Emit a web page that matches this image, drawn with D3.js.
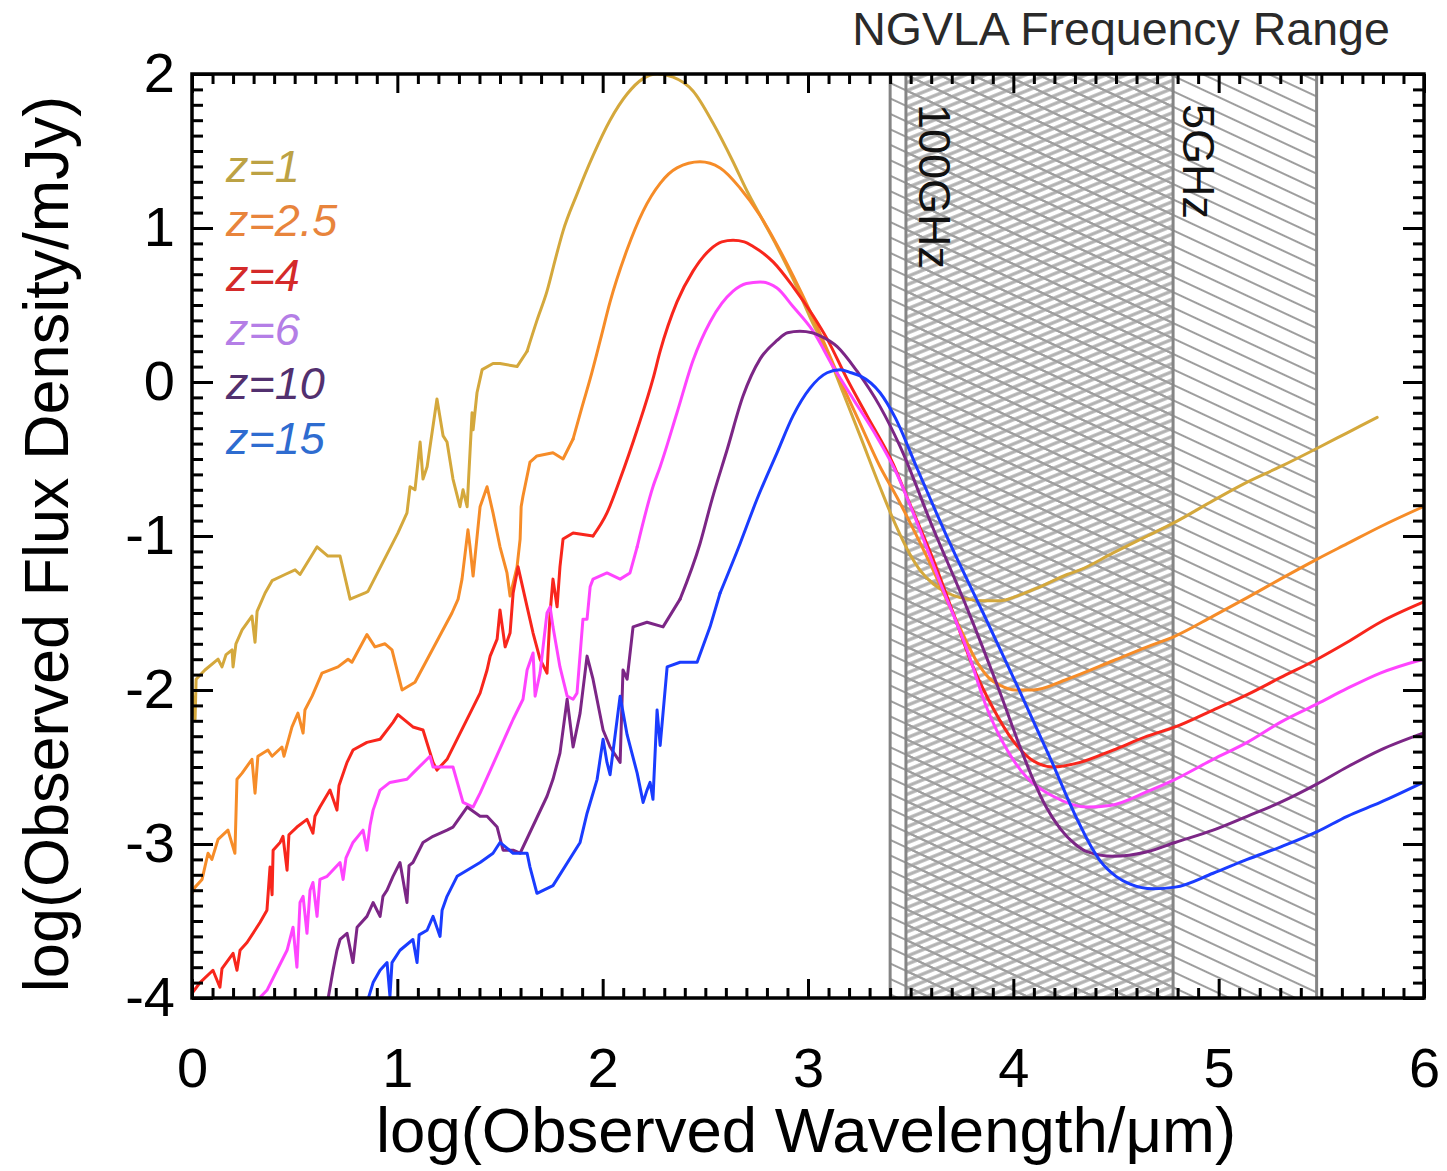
<!DOCTYPE html>
<html><head><meta charset="utf-8">
<script src="https://cdn.jsdelivr.net/npm/d3@7"></script>
<style>
html,body{margin:0;padding:0;background:#fff;}
svg{display:block;font-family:"Liberation Sans",Arial,Helvetica,sans-serif;}
</style></head><body>
<svg id="chart" width="1447" height="1171"></svg>
<script>
// ---------- data (log wavelength in μm, log flux density in mJy) ----------
const xTickValues = [0, 1, 2, 3, 4, 5, 6];
const yTickValues = [-4, -3, -2, -1, 0, 1, 2];
const seriesLabels = ["z=1", "z=2.5", "z=4", "z=6", "z=10", "z=15"];
const titleText = "NGVLA Frequency Range";
const xTitle = "log(Observed Wavelength/\u03bcm)";
const yTitle = "log(Observed Flux Density/mJy)";
// band boundaries in log(λ/μm): ~116GHz, 100GHz, 5GHz, 1GHz
const bandEdges = [3.40, 3.477, 4.778, 5.477];
const bandLabels = ["100GHz", "5GHz"];
const bandLabelAt = [3.477, 4.778];

const sedZ1 = [[0.00,-2.00],[0.015,-2.19],[0.02,-1.93],[0.063,-1.87],[0.127,-1.80],[0.146,-1.85],[0.166,-1.77],[0.195,-1.74],[0.20,-1.85],[0.214,-1.70],[0.244,-1.61],[0.292,-1.52],[0.307,-1.69],[0.317,-1.49],[0.356,-1.37],[0.39,-1.29],[0.453,-1.25],[0.502,-1.22],[0.526,-1.25],[0.609,-1.07],[0.662,-1.13],[0.721,-1.13],[0.77,-1.41],[0.843,-1.37],[0.857,-1.36],[1.003,-0.98],[1.047,-0.85],[1.062,-0.68],[1.086,-0.70],[1.111,-0.39],[1.125,-0.63],[1.145,-0.55],[1.193,-0.11],[1.223,-0.35],[1.242,-0.39],[1.271,-0.63],[1.305,-0.81],[1.32,-0.70],[1.34,-0.81],[1.364,-0.20],[1.369,-0.31],[1.388,-0.07],[1.413,0.08],[1.466,0.12],[1.50,0.12],[1.583,0.10],[1.632,0.20],[1.68,0.40],[1.729,0.59],[1.77,0.80],[1.807,0.98],[1.875,1.22],[1.953,1.47],[2.036,1.70],[2.119,1.87],[2.197,1.97],[2.265,2.00],[2.343,1.98],[2.44,1.89],[2.538,1.68],[2.635,1.43],[2.703,1.24],[2.78,1.05],[2.849,0.88],[2.927,0.67],[3.01,0.42],[3.093,0.19],[3.171,-0.07],[3.254,-0.35],[3.35,-0.68],[3.424,-0.92],[3.497,-1.12],[3.55,-1.23],[3.609,-1.31],[3.68,-1.37],[3.741,-1.40],[3.853,-1.42],[3.936,-1.42],[4.018,-1.39],[4.13,-1.33],[4.262,-1.25],[4.325,-1.22],[4.486,-1.11],[4.652,-1.00],[4.788,-0.91],[4.973,-0.77],[5.139,-0.65],[5.30,-0.55],[5.48,-0.43],[5.626,-0.33],[5.772,-0.23]];

const sedZ2p5 = [[0.00,-3.32],[0.015,-3.28],[0.049,-3.23],[0.078,-3.06],[0.097,-3.10],[0.127,-2.97],[0.175,-2.91],[0.209,-3.06],[0.219,-2.58],[0.244,-2.54],[0.292,-2.45],[0.307,-2.67],[0.321,-2.43],[0.37,-2.39],[0.39,-2.43],[0.438,-2.37],[0.448,-2.43],[0.487,-2.24],[0.516,-2.15],[0.541,-2.28],[0.55,-2.13],[0.585,-2.04],[0.633,-1.89],[0.711,-1.85],[0.76,-1.80],[0.779,-1.82],[0.852,-1.64],[0.891,-1.72],[0.94,-1.70],[0.974,-1.74],[1.023,-2.00],[1.086,-1.95],[1.266,-1.50],[1.296,-1.41],[1.315,-1.28],[1.344,-0.96],[1.354,-1.07],[1.369,-1.26],[1.403,-0.81],[1.437,-0.68],[1.466,-0.85],[1.50,-1.07],[1.534,-1.24],[1.549,-1.39],[1.583,-1.20],[1.598,-1.02],[1.603,-0.81],[1.612,-0.74],[1.646,-0.52],[1.68,-0.48],[1.758,-0.46],[1.807,-0.50],[1.856,-0.37],[1.90,-0.16],[1.939,0.02],[1.99,0.28],[2.036,0.52],[2.119,0.86],[2.197,1.11],[2.28,1.29],[2.362,1.39],[2.474,1.43],[2.572,1.39],[2.669,1.26],[2.767,1.08],[2.849,0.89],[2.927,0.69],[3.01,0.46],[3.093,0.21],[3.171,-0.03],[3.254,-0.27],[3.351,-0.55],[3.434,-0.75],[3.522,-0.98],[3.609,-1.22],[3.68,-1.43],[3.741,-1.60],[3.824,-1.82],[3.88,-1.92],[3.936,-1.97],[4.01,-2.00],[4.096,-2.00],[4.262,-1.93],[4.486,-1.81],[4.652,-1.72],[4.788,-1.65],[4.973,-1.52],[5.139,-1.40],[5.30,-1.28],[5.48,-1.15],[5.626,-1.05],[5.787,-0.94],[5.996,-0.81]];

const sedZ4 = [[0.00,-3.97],[0.039,-3.90],[0.102,-3.82],[0.136,-3.93],[0.146,-3.81],[0.20,-3.71],[0.219,-3.82],[0.234,-3.69],[0.268,-3.64],[0.331,-3.51],[0.365,-3.43],[0.38,-3.15],[0.39,-3.33],[0.395,-3.04],[0.429,-2.99],[0.443,-2.95],[0.463,-3.17],[0.472,-2.94],[0.511,-2.89],[0.56,-2.84],[0.589,-2.93],[0.599,-2.82],[0.623,-2.76],[0.672,-2.65],[0.706,-2.78],[0.716,-2.62],[0.755,-2.47],[0.784,-2.39],[0.852,-2.34],[0.916,-2.32],[0.979,-2.21],[1.003,-2.16],[1.076,-2.24],[1.125,-2.26],[1.174,-2.47],[1.193,-2.52],[1.242,-2.45],[1.403,-2.02],[1.437,-1.87],[1.452,-1.78],[1.486,-1.67],[1.50,-1.48],[1.525,-1.72],[1.549,-1.63],[1.564,-1.37],[1.588,-1.20],[1.632,-1.46],[1.661,-1.63],[1.695,-1.80],[1.729,-1.89],[1.744,-1.50],[1.758,-1.28],[1.778,-1.46],[1.792,-1.20],[1.807,-1.02],[1.856,-0.98],[1.953,-1.00],[2.021,-0.85],[2.085,-0.63],[2.168,-0.31],[2.245,0.02],[2.28,0.20],[2.362,0.52],[2.44,0.72],[2.523,0.86],[2.58,0.91],[2.635,0.92],[2.69,0.91],[2.733,0.88],[2.83,0.78],[2.927,0.62],[3.025,0.43],[3.093,0.28],[3.19,0.02],[3.288,-0.22],[3.414,-0.53],[3.483,-0.75],[3.609,-1.15],[3.707,-1.50],[3.804,-1.85],[3.902,-2.12],[3.999,-2.33],[4.096,-2.46],[4.194,-2.50],[4.325,-2.47],[4.486,-2.39],[4.652,-2.30],[4.788,-2.24],[4.973,-2.13],[5.139,-2.03],[5.30,-1.92],[5.48,-1.80],[5.626,-1.69],[5.787,-1.56],[5.996,-1.43]];

const sedZ6 = [[0.321,-4.01],[0.365,-3.95],[0.414,-3.82],[0.463,-3.69],[0.492,-3.54],[0.511,-3.80],[0.526,-3.38],[0.541,-3.34],[0.56,-3.58],[0.575,-3.30],[0.589,-3.25],[0.609,-3.47],[0.623,-3.23],[0.658,-3.21],[0.721,-3.12],[0.736,-3.23],[0.75,-3.09],[0.784,-2.99],[0.833,-2.91],[0.852,-3.04],[0.867,-2.88],[0.882,-2.78],[0.916,-2.65],[0.964,-2.60],[1.047,-2.58],[1.076,-2.54],[1.159,-2.43],[1.174,-2.50],[1.242,-2.50],[1.271,-2.50],[1.32,-2.73],[1.369,-2.76],[1.403,-2.67],[1.564,-2.19],[1.612,-2.06],[1.632,-1.87],[1.661,-1.76],[1.671,-2.04],[1.695,-1.89],[1.729,-1.50],[1.744,-1.46],[1.758,-1.59],[1.792,-1.85],[1.827,-2.04],[1.856,-2.06],[1.875,-2.02],[1.904,-1.54],[1.924,-1.54],[1.939,-1.33],[1.953,-1.28],[2.021,-1.24],[2.085,-1.28],[2.133,-1.24],[2.168,-1.07],[2.245,-0.68],[2.28,-0.55],[2.362,-0.20],[2.44,0.14],[2.523,0.39],[2.58,0.51],[2.635,0.59],[2.70,0.64],[2.767,0.65],[2.849,0.61],[2.927,0.49],[3.025,0.33],[3.122,0.10],[3.22,-0.11],[3.337,-0.36],[3.434,-0.60],[3.497,-0.80],[3.643,-1.30],[3.775,-1.74],[3.872,-2.12],[3.97,-2.39],[4.067,-2.57],[4.194,-2.69],[4.359,-2.76],[4.471,-2.75],[4.652,-2.66],[4.788,-2.58],[4.973,-2.45],[5.139,-2.34],[5.30,-2.21],[5.48,-2.09],[5.626,-1.99],[5.787,-1.89],[5.996,-1.80]];

const sedZ10 = [[0.662,-4.01],[0.687,-3.82],[0.706,-3.69],[0.721,-3.62],[0.755,-3.58],[0.784,-3.77],[0.804,-3.54],[0.852,-3.47],[0.882,-3.38],[0.916,-3.47],[0.93,-3.34],[0.95,-3.30],[0.979,-3.21],[1.013,-3.12],[1.047,-3.38],[1.057,-3.14],[1.076,-3.12],[1.125,-2.99],[1.174,-2.95],[1.242,-2.91],[1.271,-2.89],[1.34,-2.76],[1.403,-2.82],[1.437,-2.82],[1.486,-2.89],[1.515,-3.04],[1.564,-3.04],[1.598,-3.06],[1.729,-2.69],[1.758,-2.58],[1.792,-2.41],[1.827,-2.06],[1.856,-2.37],[1.89,-2.15],[1.924,-1.78],[1.953,-1.93],[2.002,-2.26],[2.036,-2.37],[2.085,-2.47],[2.099,-1.87],[2.119,-1.93],[2.148,-1.59],[2.216,-1.56],[2.294,-1.59],[2.377,-1.41],[2.474,-1.05],[2.533,-0.76],[2.606,-0.44],[2.684,-0.09],[2.767,0.15],[2.849,0.27],[2.90,0.32],[2.961,0.33],[3.02,0.32],[3.059,0.30],[3.142,0.23],[3.239,0.07],[3.351,-0.16],[3.449,-0.42],[3.609,-0.95],[3.775,-1.47],[3.936,-2.02],[4.03,-2.36],[4.096,-2.58],[4.16,-2.76],[4.228,-2.90],[4.30,-3.00],[4.359,-3.05],[4.486,-3.08],[4.652,-3.05],[4.788,-2.99],[4.973,-2.91],[5.139,-2.82],[5.30,-2.73],[5.48,-2.61],[5.626,-2.50],[5.787,-2.39],[5.996,-2.28]];

const sedZ15 = [[0.857,-4.01],[0.882,-3.90],[0.916,-3.82],[0.95,-3.77],[0.964,-3.99],[0.974,-3.77],[1.013,-3.69],[1.076,-3.62],[1.096,-3.77],[1.106,-3.59],[1.145,-3.56],[1.174,-3.47],[1.208,-3.60],[1.218,-3.43],[1.242,-3.34],[1.291,-3.21],[1.34,-3.17],[1.403,-3.12],[1.466,-3.06],[1.50,-2.99],[1.564,-3.06],[1.632,-3.06],[1.646,-3.15],[1.68,-3.32],[1.758,-3.27],[1.89,-2.99],[1.924,-2.80],[1.973,-2.58],[2.002,-2.32],[2.021,-2.47],[2.036,-2.55],[2.085,-2.04],[2.119,-2.29],[2.168,-2.54],[2.197,-2.73],[2.216,-2.65],[2.231,-2.60],[2.245,-2.71],[2.265,-2.13],[2.28,-2.36],[2.314,-1.85],[2.377,-1.82],[2.46,-1.82],[2.523,-1.59],[2.572,-1.37],[2.669,-1.05],[2.752,-0.76],[2.849,-0.46],[2.927,-0.22],[3.01,-0.04],[3.093,0.06],[3.156,0.08],[3.21,0.06],[3.254,0.04],[3.351,-0.07],[3.424,-0.23],[3.531,-0.56],[3.692,-1.05],[3.853,-1.50],[4.018,-1.97],[4.179,-2.44],[4.311,-2.84],[4.38,-3.02],[4.423,-3.11],[4.50,-3.21],[4.569,-3.26],[4.681,-3.29],[4.788,-3.28],[4.973,-3.19],[5.139,-3.10],[5.30,-3.02],[5.48,-2.92],[5.626,-2.82],[5.787,-2.73],[5.996,-2.60]];

const seriesData = [sedZ1, sedZ2p5, sedZ4, sedZ6, sedZ10, sedZ15];
// where each spectrum stops being spiky and becomes a smooth dust/radio curve
const smoothFrom = [1.632, 1.856, 1.953, 2.168, 2.377, 2.572];
const lineColors = ["#d4a83c", "#f68c28", "#f8261c", "#ff44ff", "#7c2686", "#1a3cff"];
const legendColors = ["#bca244", "#e8843c", "#d42a2a", "#b47ee6", "#52306f", "#2e6cd0"];

// ---------- layout ----------
const L = 192, R = 1424, T = 74, B = 998;
const svg = d3.select("#chart");
const x = d3.scaleLinear().domain([0, 6]).range([L, R]);
const y = d3.scaleLinear().domain([-4, 2]).range([B, T]);

const defs = svg.append("defs");
defs.append("clipPath").attr("id", "plotClip")
  .append("rect").attr("x", L).attr("y", T).attr("width", R - L).attr("height", B - T);

const pA = defs.append("pattern").attr("id", "hatchA").attr("patternUnits", "userSpaceOnUse")
  .attr("width", 60).attr("height", 14).attr("patternTransform", "rotate(25)");
pA.append("line").attr("x1", 0).attr("x2", 60).attr("y1", 7).attr("y2", 7)
  .attr("stroke", "#9e9e9e").attr("stroke-width", 2.2);
const pB = defs.append("pattern").attr("id", "hatchB").attr("patternUnits", "userSpaceOnUse")
  .attr("width", 60).attr("height", 7.5).attr("patternTransform", "rotate(-22)");
pB.append("line").attr("x1", 0).attr("x2", 60).attr("y1", 3.75).attr("y2", 3.75)
  .attr("stroke", "#b2b2b2").attr("stroke-width", 3.4);

// hatched NGVLA band
const band = svg.append("g");
band.append("rect").attr("x", x(bandEdges[0])).attr("y", T)
  .attr("width", x(bandEdges[3]) - x(bandEdges[0])).attr("height", B - T)
  .attr("fill", "url(#hatchA)");
band.append("rect").attr("x", x(bandEdges[1])).attr("y", T)
  .attr("width", x(bandEdges[2]) - x(bandEdges[1])).attr("height", B - T)
  .attr("fill", "url(#hatchB)");
band.append("rect").attr("x", x(bandEdges[1])).attr("y", T)
  .attr("width", x(bandEdges[2]) - x(bandEdges[1])).attr("height", B - T)
  .attr("fill", "url(#hatchA)");
band.selectAll("line.edge").data(bandEdges).enter().append("line")
  .attr("class", "edge")
  .attr("x1", d => x(d)).attr("x2", d => x(d)).attr("y1", T).attr("y2", B)
  .attr("stroke", "#858585").attr("stroke-width", 3);
band.selectAll("text.bl").data(bandLabels).enter().append("text")
  .attr("class", "bl")
  .attr("transform", (d, i) => `translate(${x(bandLabelAt[i]) + (i === 0 ? 13 : 10)},${T + 30}) rotate(90)`)
  .attr("font-size", 45).attr("fill", "#111")
  .text(d => d);

// curves: spiky stellar part drawn straight, smooth part drawn with monotone spline
const lineStraight = d3.line().x(d => x(d[0])).y(d => y(d[1])).curve(d3.curveLinear);
const lineSmooth = d3.line().x(d => x(d[0])).y(d => y(d[1])).curve(d3.curveMonotoneX);
const curveG = svg.append("g").attr("clip-path", "url(#plotClip)");
seriesData.forEach((data, i) => {
  const k = data.findIndex(p => p[0] >= smoothFrom[i]);
  const noisy = data.slice(0, k + 1), smooth = data.slice(k);
  const g = curveG.append("g").attr("fill", "none").attr("stroke", lineColors[i])
    .attr("stroke-width", 3).attr("stroke-linejoin", "round").attr("stroke-linecap", "round");
  g.append("path").attr("d", lineStraight(noisy));
  g.append("path").attr("d", lineSmooth(smooth));
});

// axes: ticks inward on all four sides
const xMinor = d3.range(0, 61).map(v => v / 10).filter(v => !xTickValues.includes(v));
const yMinor = d3.range(-40, 21).map(v => v / 10).filter(v => !yTickValues.includes(v));
function styleAxis(g) {
  g.select(".domain").remove();
  g.selectAll(".tick line").attr("stroke", "#000").attr("stroke-width", 3);
  g.selectAll("text").attr("font-size", 56).attr("fill", "#000")
    .attr("font-family", "'Liberation Sans', Arial, sans-serif");
}
const fmt = d => String(d);
svg.append("g").attr("transform", `translate(0,${B})`)
  .call(d3.axisBottom(x).tickValues(xTickValues).tickSize(-19).tickPadding(49).tickFormat(fmt)).call(styleAxis);
svg.append("g").attr("transform", `translate(0,${B})`)
  .call(d3.axisBottom(x).tickValues(xMinor).tickSize(-10).tickFormat("")).call(styleAxis);
svg.append("g").attr("transform", `translate(0,${T})`)
  .call(d3.axisTop(x).tickValues(xTickValues).tickSize(-19).tickFormat("")).call(styleAxis);
svg.append("g").attr("transform", `translate(0,${T})`)
  .call(d3.axisTop(x).tickValues(xMinor).tickSize(-10).tickFormat("")).call(styleAxis);
svg.append("g").attr("transform", `translate(${L},0)`)
  .call(d3.axisLeft(y).tickValues(yTickValues).tickSize(-21).tickPadding(17).tickFormat(fmt)).call(styleAxis);
svg.append("g").attr("transform", `translate(${L},0)`)
  .call(d3.axisLeft(y).tickValues(yMinor).tickSize(-11).tickFormat("")).call(styleAxis);
svg.append("g").attr("transform", `translate(${R},0)`)
  .call(d3.axisRight(y).tickValues(yTickValues).tickSize(-21).tickFormat("")).call(styleAxis);
svg.append("g").attr("transform", `translate(${R},0)`)
  .call(d3.axisRight(y).tickValues(yMinor).tickSize(-11).tickFormat("")).call(styleAxis);

// frame
svg.append("rect").attr("x", L).attr("y", T).attr("width", R - L).attr("height", B - T)
  .attr("fill", "none").attr("stroke", "#000").attr("stroke-width", 3.5);

// titles
svg.append("text").attr("x", 806).attr("y", 1152)
  .attr("text-anchor", "middle").attr("font-size", 63.5).attr("fill", "#000").text(xTitle);
svg.append("text").attr("transform", `translate(68,${(T + B) / 2 + 8}) rotate(-90)`)
  .attr("text-anchor", "middle").attr("font-size", 63).attr("fill", "#000").text(yTitle);
svg.append("text").attr("x", 1121).attr("y", 45)
  .attr("text-anchor", "middle").attr("font-size", 46.5).attr("fill", "#2a2a2a").text(titleText);

// legend
svg.append("g").selectAll("text").data(seriesLabels).enter().append("text")
  .attr("x", 226).attr("y", (d, i) => 182 + i * 54.3)
  .attr("font-size", 45).attr("font-style", "italic")
  .attr("fill", (d, i) => legendColors[i]).text(d => d);
</script>
</body></html>
